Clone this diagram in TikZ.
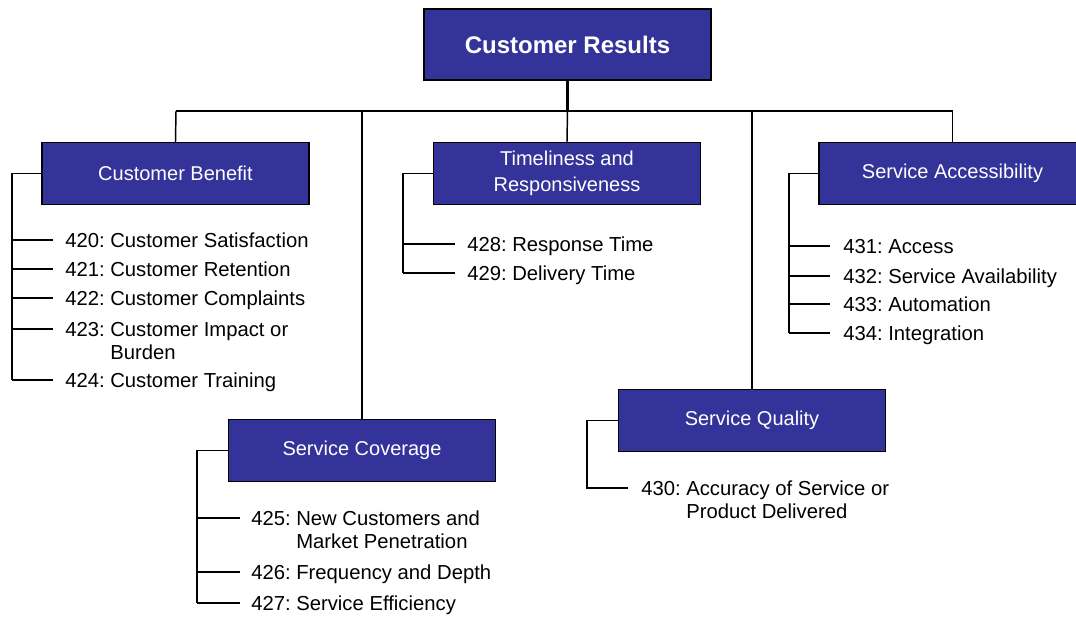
\documentclass[tikz,border=0pt]{standalone}
\usepackage{fontspec}
\setmainfont{Liberation Sans}
\frenchspacing
\definecolor{boxblue}{RGB}{51,51,153}
\newcommand{\hangitem}[3]{\begin{tabular}[t]{@{}l@{}}#1\ #2\\\hphantom{#1\ }#3\end{tabular}}
\tikzset{
  catbox/.style={draw=black, line width=1.1pt, fill=boxblue, text=white,
    minimum width=200.25pt, minimum height=46.5pt, inner sep=2pt, align=center,
    font=\fontsize{15}{19.5}\selectfont},
  topbox/.style={catbox, minimum width=215.25pt, minimum height=53.25pt,
    font=\fontsize{18}{21}\selectfont\bfseries},
  item/.style={anchor=base west, inner sep=0pt, font=\fontsize{15.2}{17.5}\selectfont},
  link/.style={line width=1.1pt, black},
  stem/.style={line width=1.6pt, black}
}
\begin{document}
\begin{tikzpicture}[x=0.75pt,y=-0.75pt]
\useasboundingbox (0,0) rectangle (1076,618);
\clip (0,0) rectangle (1076,618);
% boxes
\node[topbox] (top) at (567.5,44.5) {Customer Results};
\node[catbox] (cb) at (175.5,173.5) {Customer Benefit};
\node[catbox] (tr) at (567,173.5) {Timeliness and\\Responsiveness};
\node[catbox] (sa) at (952.5,173.5) {Service Accessibility};
\node[catbox] (sc) at (362,450.5) {Service Coverage};
\node[catbox] (sq) at (752,420.5) {Service Quality};
% bus
\coordinate (b1) at (176,111);
\coordinate (b2) at (362,111);
\coordinate (b3) at (567.5,111);
\coordinate (b4) at (752,111);
\coordinate (b5) at (952.5,111);
\draw[stem] (top.south) -- (b3);
\draw[link] (b1) -- (b5);
\draw[link] (b1) -- (cb.north);
\draw[link] (b2) -- (sc.north);
\draw[link] (b3) -- (tr.north);
\draw[link] (b4) -- (sq.north);
\draw[link] (b5) -- (sa.north);
% Customer Benefit items
\foreach \n/\y in {a/240,b/269,c/298,d/329,e/380}{
  \coordinate (cbl\n) at (12,\y); \coordinate (cbr\n) at (53,\y);
  \draw[link] (cbl\n) -- (cbr\n);
}
\draw[link] (cb.west) -| (cble);
\node[item] (i420) at (65,247) {420: Customer Satisfaction};
\node[item] (i421) at (65,276.5) {421: Customer Retention};
\node[item] (i422) at (65,305.5) {422: Customer Complaints};
\node[item] (i423) at (65,336) {\hangitem{423:}{Customer Impact or}{Burden}};
\node[item] (i424) at (65,387.5) {424: Customer Training};
% Timeliness items
\foreach \n/\y in {a/244,b/273}{
  \coordinate (trl\n) at (403,\y); \coordinate (trr\n) at (455,\y);
  \draw[link] (trl\n) -- (trr\n);
}
\draw[link] (tr.west) -| (trlb);
\node[item] (i428) at (467,251.5) {428: Response Time};
\node[item] (i429) at (467,280.5) {429: Delivery Time};
% Service Accessibility items
\foreach \n/\y in {a/246,b/276,c/304,d/333}{
  \coordinate (sal\n) at (789,\y); \coordinate (sar\n) at (830,\y);
  \draw[link] (sal\n) -- (sar\n);
}
\draw[link] (sa.west) -| (sald);
\node[item] (i431) at (843,253.5) {431: Access};
\node[item] (i432) at (843,283.5) {432: Service Availability};
\node[item] (i433) at (843,311.5) {433: Automation};
\node[item] (i434) at (843,340.5) {434: Integration};
% Service Coverage items
\foreach \n/\y in {a/518,b/572,c/603}{
  \coordinate (scl\n) at (197,\y); \coordinate (scr\n) at (240,\y);
  \draw[link] (scl\n) -- (scr\n);
}
\draw[link] (sc.west) -| (sclc);
\node[item] (i425) at (251,525.5) {\hangitem{425:}{New Customers and}{Market Penetration}};
\node[item] (i426) at (251,579.5) {426: Frequency and Depth};
\node[item] (i427) at (251,610.5) {427: Service Efficiency};
% Service Quality items
\coordinate (sqla) at (587,488); \coordinate (sqra) at (628,488);
\draw[link] (sq.west) -| (sqla) -- (sqra);
\node[item] (i430) at (641,495.5) {\hangitem{430:}{Accuracy of Service or}{Product Delivered}};
\end{tikzpicture}
\end{document}
